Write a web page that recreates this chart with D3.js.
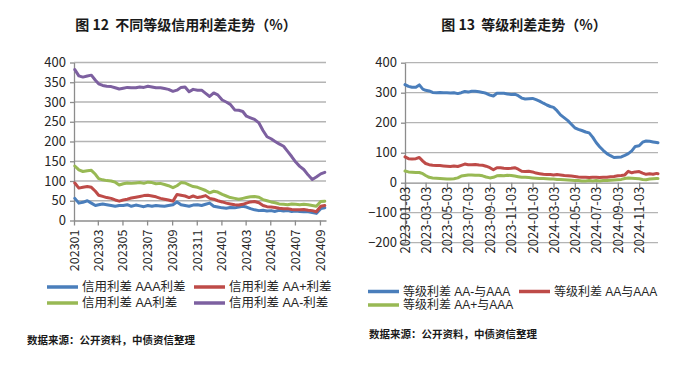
<!DOCTYPE html>
<html>
<head>
<meta charset="utf-8">
<script src="https://cdn.jsdelivr.net/npm/d3@7"></script>
<style>
  html, body { margin: 0; padding: 0; background: #ffffff; }
  svg { display: block; }
  text { font-family: "Noto Sans CJK SC", "Noto Sans", sans-serif; }
</style>
</head>
<body>
<svg id="chart" width="700" height="366"></svg>
<script>
// ---------------- Left chart data (图 12) ----------------
const leftTitle = "图 12  不同等级信用利差走势（%）";
const leftSeriesNames = ["信用利差 AAA利差", "信用利差 AA+利差", "信用利差 AA利差", "信用利差 AA-利差"];
const leftDates = [
  "2023-01-03","2023-01-13","2023-01-23","2023-02-03","2023-02-13","2023-02-23",
  "2023-03-03","2023-03-13","2023-03-23","2023-04-03","2023-04-13","2023-04-23",
  "2023-05-03","2023-05-13","2023-05-23","2023-06-03","2023-06-13","2023-06-23",
  "2023-07-03","2023-07-13","2023-07-23","2023-08-03","2023-08-13","2023-08-23",
  "2023-09-03","2023-09-13","2023-09-23","2023-10-03","2023-10-13","2023-10-23",
  "2023-11-03","2023-11-13","2023-11-23","2023-12-03","2023-12-13","2023-12-23",
  "2024-01-03","2024-01-13","2024-01-23","2024-02-03","2024-02-13","2024-02-23",
  "2024-03-03","2024-03-13","2024-03-23","2024-04-03","2024-04-13","2024-04-23",
  "2024-05-03","2024-05-13","2024-05-23","2024-06-03","2024-06-13","2024-06-23",
  "2024-07-03","2024-07-13","2024-07-23","2024-08-03","2024-08-13","2024-08-23",
  "2024-09-03","2024-09-13"
];
const leftAAA = [
  56,44,46, 50,44,38, 40,42,40, 38,36,38, 38,40,36, 39,37,35,
  38,36,38, 37,36,38, 40,47,40, 38,36,39, 40,38,41, 44,36,34,
  32,31,33, 32,34,36, 34,30,27, 25,26,24, 25,23,26, 24,25,23,
  24,23,22, 22,20,18, 30,32
];
const leftAAplus = [
  95,82,84, 86,84,74, 64,61,58, 56,52,49, 52,54,57, 59,61,63,
  64,62,60, 56,54,52, 49,66,64, 62,58,62, 58,60,63, 56,54,50,
  47,44,42, 40,39,41, 44,47,48, 45,38,35, 34,33,31, 30,30,28,
  27,27,28, 26,25,22, 36,38
];
const leftAA = [
  138,128,124, 126,127,117, 106,103,101, 100,97,90, 93,95,94, 95,96,94,
  97,96,93, 94,91,88, 83,88,96, 95,90,86, 84,80,76, 70,74,72,
  66,62,58, 56,54,56, 58,60,61, 59,53,50, 47,45,42, 41,40,42,
  41,40,41, 40,38,36, 48,49
];
const leftAAminus = [
  382,366,363, 366,368,355, 346,342,340, 339,336,333, 335,337,336, 336,338,337,
  340,338,336, 336,334,332, 327,330,337, 338,326,332, 330,330,322, 314,323,318,
  305,300,294, 280,279,276, 264,260,256, 247,228,212, 207,200,194, 188,175,162,
  148,137,129, 115,104,110, 118,122
];
const leftYTicks = [0,50,100,150,200,250,300,350,400];
const leftXTicks = ["2023-01-01","2023-03-01","2023-05-01","2023-07-01","2023-09-01","2023-11-01",
                    "2024-01-01","2024-03-01","2024-05-01","2024-07-01","2024-09-01"];

// ---------------- Right chart data (图 13) ----------------
const rightTitle = "图 13  等级利差走势（%）";
const rightSeriesNames = ["等级利差 AA-与AAA", "等级利差 AA与AAA", "等级利差 AA+与AAA"];
const rightDates = [
  "2023-01-03","2023-01-13","2023-01-23","2023-02-03","2023-02-13","2023-02-23",
  "2023-03-03","2023-03-13","2023-03-23","2023-04-03","2023-04-13","2023-04-23",
  "2023-05-03","2023-05-13","2023-05-23","2023-06-03","2023-06-13","2023-06-23",
  "2023-07-03","2023-07-13","2023-07-23","2023-08-03","2023-08-13","2023-08-23",
  "2023-09-03","2023-09-13","2023-09-23","2023-10-03","2023-10-13","2023-10-23",
  "2023-11-03","2023-11-13","2023-11-23","2023-12-03","2023-12-13","2023-12-23",
  "2024-01-03","2024-01-13","2024-01-23","2024-02-03","2024-02-13","2024-02-23",
  "2024-03-03","2024-03-13","2024-03-23","2024-04-03","2024-04-13","2024-04-23",
  "2024-05-03","2024-05-13","2024-05-23","2024-06-03","2024-06-13","2024-06-23",
  "2024-07-03","2024-07-13","2024-07-23","2024-08-03","2024-08-13","2024-08-23",
  "2024-09-03","2024-09-13","2024-09-23","2024-10-03","2024-10-13","2024-10-23",
  "2024-11-03","2024-11-13","2024-11-23","2024-12-03","2024-12-13","2024-12-23",
  "2024-12-27"
];
const rightAAminus = [
  327,321,318, 318,326,312, 308,306,301, 300,301,300, 300,299,300, 297,300,304,
  302,305,305, 303,301,298, 292,289,298, 298,298,296, 294,295,290, 282,279,280,
  281,277,272, 265,259,254, 251,240,226, 216,207,195, 183,178,174, 169,166,152,
  134,120,108, 97,90,84, 85,86,91, 97,106,121, 123,135,139, 138,136,134,
  133
];
const rightAA = [
  86,80,79, 80,84,72, 64,60,58, 57,57,56, 55,54,56, 54,58,62,
  60,60,61, 59,58,55, 50,43,50, 50,48,47, 48,50,45, 38,37,38,
  36,32,30, 28,27,27, 26,27,26, 24,23,22, 21,19,18, 18,17,18,
  18,17,18, 18,20,21, 23,24,26, 38,33,36, 37,32,28, 30,28,31,
  30
];
const rightAAplus = [
  39,36,35, 34,34,30, 24,18,16, 15,14,13, 12,12,13, 16,22,24,
  26,26,25, 25,23,19, 16,18,23, 24,23,25, 24,22,20, 18,18,17,
  16,15,14, 14,13,12, 12,11,11, 10,9,8, 7,7,6, 6,7,6,
  7,6,7, 7,8,9, 10,11,14, 16,15,14, 13,11,10, 12,13,14,
  14
];
const rightYTicks = [-200,-100,0,100,200,300,400];
const rightXTicks = ["2023-01-03","2023-03-03","2023-05-03","2023-07-03","2023-09-03","2023-11-03",
                     "2024-01-03","2024-03-03","2024-05-03","2024-07-03","2024-09-03","2024-11-03"];

const sourceText = "数据来源：公开资料，中债资信整理";
const colors = ["#4A7EBB", "#BE4B48", "#98B954", "#7D60A0"];

// ---------------- Drawing ----------------
const parse = d3.timeParse("%Y-%m-%d");
const svg = d3.select("#chart");
const GRID = "#b4b4b4", AXIS = "#8c8c8c", TEXT = "#262626";
const LEGEND_FONT = '"Liberation Sans", "Noto Sans CJK SC", sans-serif';

function drawPanel(cfg) {
  const g = svg.append("g");
  const x = d3.scaleTime().domain(cfg.xDomain.map(parse)).range([cfg.left, cfg.right]);
  const y = d3.scaleLinear().domain(cfg.yDomain).range([cfg.bottom, cfg.top]);

  // gridlines
  g.append("g").selectAll("line").data(cfg.yTicks.filter(v => v !== 0)).join("line")
    .attr("x1", cfg.left).attr("x2", cfg.right)
    .attr("y1", d => y(d)).attr("y2", d => y(d))
    .attr("stroke", GRID).attr("stroke-width", 1.3);

  // y axis
  const ya = g.append("g").attr("transform", `translate(${cfg.left},0)`)
    .call(d3.axisLeft(y).tickValues(cfg.yTicks).tickSize(4).tickSizeOuter(0).tickPadding(4));
  ya.select(".domain").attr("stroke", AXIS).attr("stroke-width", 1.3);
  ya.selectAll(".tick line").attr("stroke", AXIS).attr("stroke-width", 1.3);
  ya.selectAll("text").attr("fill", TEXT).style("font-size", "13px")
    .style("font-family", '"Noto Sans CJK SC", sans-serif');

  // x axis at y=0
  const xa = g.append("g").attr("transform", `translate(0,${y(0)})`)
    .call(d3.axisBottom(x).tickValues(cfg.xTicks.map(parse)).tickFormat(d3.timeFormat(cfg.xFormat))
      .tickSize(5).tickSizeOuter(0));
  xa.select(".domain").attr("stroke", AXIS).attr("stroke-width", 1.3);
  xa.selectAll(".tick line").attr("stroke", AXIS).attr("stroke-width", 1.3);
  xa.selectAll("text").attr("fill", TEXT).style("font-size", cfg.xFont)
    .style("font-family", '"Noto Sans CJK SC", sans-serif')
    .attr("transform", "rotate(-90)").attr("x", -cfg.xLabelOffset).attr("y", 0).attr("dy", "0.35em")
    .style("text-anchor", "end");

  // lines
  const line = d3.line().x(d => x(d.date)).y(d => y(d.v)).curve(d3.curveLinear);
  cfg.series.forEach((s, i) => {
    const pts = cfg.dates.map((d, k) => ({ date: parse(d), v: s[k] }));
    g.append("path").datum(pts).attr("d", line)
      .attr("fill", "none").attr("stroke", colors[i]).attr("stroke-width", 3)
      .attr("stroke-linejoin", "round").attr("stroke-linecap", "round");
  });

  // title
  g.append("text").attr("x", cfg.titleX).attr("y", 30).attr("text-anchor", "middle")
    .style("font-size", "14px").style("font-weight", "bold").style("white-space", "pre")
    .attr("fill", "#1a1a1a")
    .text(cfg.title);

  // legend
  cfg.legend.forEach((L, i) => {
    g.append("line").attr("x1", L.x).attr("x2", L.x + 31).attr("y1", L.y).attr("y2", L.y)
      .attr("stroke", colors[i]).attr("stroke-width", 3.5);
    g.append("text").attr("x", L.x + 35).attr("y", L.y).attr("dy", "0.35em")
      .style("font-size", cfg.legendFont).style("font-family", LEGEND_FONT)
      .attr("fill", TEXT).text(cfg.names[i]);
  });

  // source
  g.append("text").attr("x", cfg.srcX).attr("y", cfg.srcY).attr("dy", "0.35em")
    .style("font-size", "10.5px").style("font-weight", "bold").attr("fill", "#1a1a1a")
    .text(sourceText);
}

drawPanel({
  left: 74, right: 326, top: 62.5, bottom: 220.5,
  xDomain: ["2023-01-01", "2024-09-16"], yDomain: [0, 400],
  yTicks: leftYTicks, xTicks: leftXTicks, xFormat: "%Y%m", xFont: "12.5px", xLabelOffset: 9,
  dates: leftDates, series: [leftAAA, leftAAplus, leftAA, leftAAminus],
  names: leftSeriesNames, title: leftTitle, titleX: 186, legendFont: "12.5px",
  legend: [{x: 47, y: 287}, {x: 194, y: 287}, {x: 47, y: 303}, {x: 194, y: 303}],
  srcX: 27, srcY: 340
});

drawPanel({
  left: 405, right: 658, top: 62.7, bottom: 242.7,
  xDomain: ["2023-01-03", "2024-12-27"], yDomain: [-200, 400],
  yTicks: rightYTicks, xTicks: rightXTicks, xFormat: "%Y-%m-%d", xFont: "13px", xLabelOffset: 4,
  dates: rightDates, series: [rightAAminus, rightAA, rightAAplus],
  names: rightSeriesNames, title: rightTitle, titleX: 524, legendFont: "12px",
  legend: [{x: 368, y: 291.5}, {x: 519, y: 291.5}, {x: 368, y: 305}],
  srcX: 369, srcY: 334
});
</script>
</body>
</html>
